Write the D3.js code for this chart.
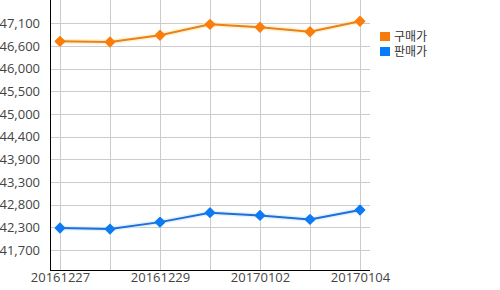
<!DOCTYPE html>
<html>
<head>
<meta charset="utf-8">
<script src="https://cdn.jsdelivr.net/npm/d3@7"></script>
<style>
  body { margin: 0; background: #fff; }
  svg { display: block; font-family: 'Open Sans', 'Noto Sans', sans-serif; }
</style>
</head>
<body>
<div id="chart"></div>
<script>
// dates on x axis
const dates = ['20161227', '20161228', '20161229', '20161230', '20170102', '20170103', '20170104']
// 구매가 (buy price)
const buyPrices = [46690, 46675, 46835, 47095, 47025, 46920, 47170]
// 판매가 (sell price)
const sellPrices = [42245, 42220, 42385, 42610, 42545, 42450, 42675]
// y ticks (labels are rounded to hundreds)
const yTicks = [41720, 42260, 42800, 43340, 43880, 44420, 44960, 45500, 46040, 46580, 47120]
const xTickLabels = ['20161227', '20161229', '20170102', '20170104']

const seriesNames = ['구매가', '판매가']
const seriesData = [buyPrices, sellPrices]

const width = 500
const height = 290
const margin = { top: 0, right: 130, bottom: 20, left: 50 }
const boundedWidth = width - margin.left - margin.right
const boundedHeight = height - margin.top - margin.bottom

const lineColors = ['#e8801e', '#1c70d6']
const markerColors = ['#fb7d0c', '#0c7bf4']
const legendColors = ['#f77c10', '#0a7bf8']

const svg = d3.select('#chart').append('svg')
  .attr('width', width)
  .attr('height', height)

const plot = svg.append('g')
  .attr('transform', `translate(${margin.left}, ${margin.top})`)

// Scales
const xScale = d3.scalePoint()
  .domain(dates)
  .range([0, boundedWidth])
  .padding(0.2)

const yScale = d3.scaleLinear()
  .domain([41245, 47675])
  .range([boundedHeight, 0])

// Grid lines
plot.append('g')
  .selectAll('line')
  .data(yTicks)
  .enter().append('line')
  .attr('x1', 0)
  .attr('x2', boundedWidth)
  .attr('y1', d => Math.round(yScale(d)) + 0.5)
  .attr('y2', d => Math.round(yScale(d)) + 0.5)
  .attr('stroke', '#cccccc')

plot.append('g')
  .selectAll('line')
  .data(dates)
  .enter().append('line')
  .attr('x1', d => Math.round(xScale(d)) + 0.5)
  .attr('x2', d => Math.round(xScale(d)) + 0.5)
  .attr('y1', 0)
  .attr('y2', boundedHeight)
  .attr('stroke', '#cccccc')

// Y axis labels
const yAxis = plot.append('g')
  .call(d3.axisLeft(yScale)
    .tickValues(yTicks)
    .tickSize(0)
    .tickPadding(10)
    .tickFormat(d => d3.format(',')(Math.round(d / 100) * 100)))
yAxis.select('.domain').remove()
yAxis.selectAll('text')
  .attr('font-size', 13)
  .attr('font-family', "'Open Sans', sans-serif")
  .attr('fill', '#444')

// X axis labels
const xAxis = plot.append('g')
  .attr('transform', `translate(0, ${boundedHeight})`)
  .call(d3.axisBottom(xScale)
    .tickValues(xTickLabels)
    .tickSize(0)
    .tickPadding(3))
xAxis.select('.domain').remove()
xAxis.selectAll('text')
  .attr('font-size', 13)
  .attr('font-family', "'Open Sans', sans-serif")
  .attr('fill', '#444')

// Axis lines
plot.append('line')
  .attr('x1', 0.5).attr('x2', 0.5)
  .attr('y1', 0).attr('y2', boundedHeight)
  .attr('stroke', '#000')
plot.append('line')
  .attr('x1', 0).attr('x2', boundedWidth)
  .attr('y1', boundedHeight + 0.5).attr('y2', boundedHeight + 0.5)
  .attr('stroke', '#000')

// Lines
const line = d3.line()
  .x((d, i) => xScale(dates[i]))
  .y(d => yScale(d))

seriesData.forEach((values, s) => {
  // faint halo under the line
  plot.append('path')
    .datum(values)
    .attr('d', line)
    .attr('fill', 'none')
    .attr('stroke', s === 0 ? '#ffe9b0' : '#d6e8ff')
    .attr('stroke-opacity', 0.6)
    .attr('stroke-width', 5)

  plot.append('path')
    .datum(values)
    .attr('d', line)
    .attr('fill', 'none')
    .attr('stroke', lineColors[s])
    .attr('stroke-width', 2)

  plot.append('g')
    .selectAll('path')
    .data(values)
    .enter().append('path')
    .attr('d', d3.symbol().type(d3.symbolDiamond2).size(55))
    .attr('transform', (d, i) => `translate(${xScale(dates[i])}, ${yScale(d)})`)
    .attr('fill', markerColors[s])
    .attr('stroke', markerColors[s])
    .attr('stroke-width', 1.5)
    .attr('stroke-linejoin', 'round')
})

// Legend
const legend = svg.append('g')
  .attr('transform', 'translate(380, 32)')

const legendItem = legend.selectAll('g')
  .data(seriesNames)
  .enter().append('g')
  .attr('transform', (d, i) => `translate(0, ${i * 15})`)

legendItem.append('rect')
  .attr('width', 10)
  .attr('height', 9)
  .attr('fill', (d, i) => legendColors[i])

legendItem.append('text')
  .attr('x', 14)
  .attr('y', 9)
  .attr('font-size', 12)
  .attr('font-family', "'DejaVu Sans', 'Noto Sans CJK KR', sans-serif")
  .attr('fill', '#333')
  .text(d => d)
</script>
</body>
</html>
